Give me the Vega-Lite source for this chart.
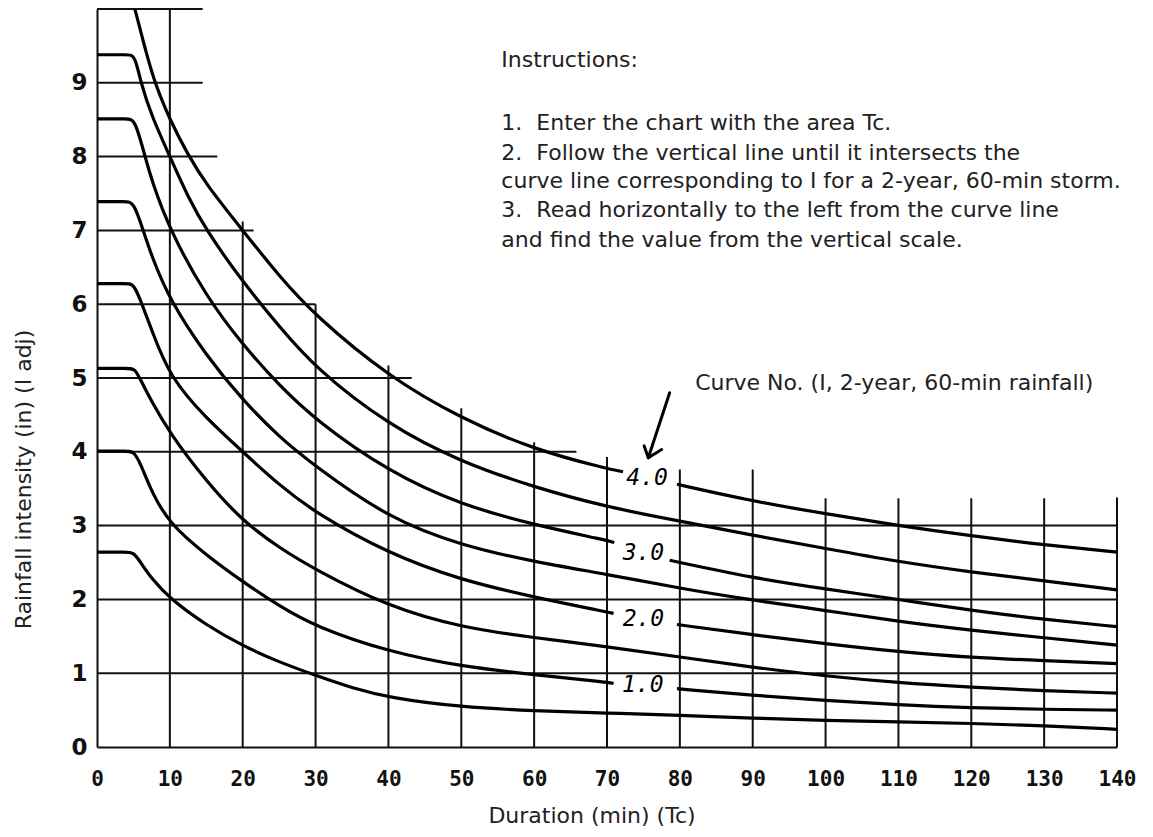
{
  "$schema": "https://vega.github.io/schema/vega-lite/v6.json",
  "width": 1020,
  "height": 738,
  "autosize": {"type": "none"},
  "padding": {"left": 97, "top": 9, "right": 36, "bottom": 90},
  "background": "white",
  "config": {"view": {"stroke": null}, "axis": {"grid": false}},
  "datasets": {
    "vgrid": [
      {"x": 10, "y": 0, "y2": 10},
      {"x": 20, "y": 0, "y2": 7.12},
      {"x": 30, "y": 0, "y2": 6.0},
      {"x": 40, "y": 0, "y2": 5.17},
      {"x": 50, "y": 0, "y2": 4.59},
      {"x": 60, "y": 0, "y2": 4.13},
      {"x": 70, "y": 0, "y2": 3.93},
      {"x": 80, "y": 0, "y2": 3.76},
      {"x": 90, "y": 0, "y2": 3.76},
      {"x": 100, "y": 0, "y2": 3.37},
      {"x": 110, "y": 0, "y2": 3.37},
      {"x": 120, "y": 0, "y2": 3.37},
      {"x": 130, "y": 0, "y2": 3.37},
      {"x": 140, "y": 0, "y2": 3.38}
    ],
    "hgrid": [
      {"y": 10, "x": 0, "x2": 14.5},
      {"y": 9, "x": 0, "x2": 14.5},
      {"y": 8, "x": 0, "x2": 16.5},
      {"y": 7, "x": 0, "x2": 21.5},
      {"y": 6, "x": 0, "x2": 30},
      {"y": 5, "x": 0, "x2": 43.2},
      {"y": 4, "x": 0, "x2": 65.8},
      {"y": 3, "x": 0, "x2": 140},
      {"y": 2, "x": 0, "x2": 140},
      {"y": 1, "x": 0, "x2": 140}
    ],
    "curves": [
      {"c": "A", "x": 0, "y": 2.64}, {"c": "A", "x": 4, "y": 2.64}, {"c": "A", "x": 5, "y": 2.64}, {"c": "A", "x": 6, "y": 2.5}, {"c": "A", "x": 7.5, "y": 2.28}, {"c": "A", "x": 10, "y": 2.01}, {"c": "A", "x": 15, "y": 1.65}, {"c": "A", "x": 20, "y": 1.37}, {"c": "A", "x": 25, "y": 1.15}, {"c": "A", "x": 30, "y": 0.97}, {"c": "A", "x": 35, "y": 0.8}, {"c": "A", "x": 40, "y": 0.67}, {"c": "A", "x": 50, "y": 0.54}, {"c": "A", "x": 60, "y": 0.49}, {"c": "A", "x": 70, "y": 0.46}, {"c": "A", "x": 80, "y": 0.43}, {"c": "A", "x": 90, "y": 0.39}, {"c": "A", "x": 100, "y": 0.36}, {"c": "A", "x": 110, "y": 0.34}, {"c": "A", "x": 120, "y": 0.32}, {"c": "A", "x": 130, "y": 0.29}, {"c": "A", "x": 140, "y": 0.24},
      {"c": "B1", "x": 0, "y": 4.01}, {"c": "B1", "x": 4, "y": 4.01}, {"c": "B1", "x": 5, "y": 4.01}, {"c": "B1", "x": 6, "y": 3.84}, {"c": "B1", "x": 7.5, "y": 3.45}, {"c": "B1", "x": 10, "y": 3.02}, {"c": "B1", "x": 15, "y": 2.6}, {"c": "B1", "x": 20, "y": 2.24}, {"c": "B1", "x": 25, "y": 1.91}, {"c": "B1", "x": 30, "y": 1.63}, {"c": "B1", "x": 40, "y": 1.29}, {"c": "B1", "x": 50, "y": 1.09}, {"c": "B1", "x": 60, "y": 0.98}, {"c": "B1", "x": 70, "y": 0.88}, {"c": "B1", "x": 70.9, "y": 0.86},
      {"c": "B2", "x": 79.6, "y": 0.79}, {"c": "B2", "x": 90, "y": 0.7}, {"c": "B2", "x": 100, "y": 0.63}, {"c": "B2", "x": 110, "y": 0.57}, {"c": "B2", "x": 120, "y": 0.53}, {"c": "B2", "x": 130, "y": 0.51}, {"c": "B2", "x": 140, "y": 0.5},
      {"c": "C", "x": 0, "y": 5.13}, {"c": "C", "x": 4.2, "y": 5.13}, {"c": "C", "x": 5.2, "y": 5.13}, {"c": "C", "x": 6, "y": 4.97}, {"c": "C", "x": 7.5, "y": 4.68}, {"c": "C", "x": 10, "y": 4.25}, {"c": "C", "x": 15, "y": 3.6}, {"c": "C", "x": 20, "y": 3.06}, {"c": "C", "x": 25, "y": 2.7}, {"c": "C", "x": 30, "y": 2.4}, {"c": "C", "x": 40, "y": 1.9}, {"c": "C", "x": 50, "y": 1.62}, {"c": "C", "x": 60, "y": 1.48}, {"c": "C", "x": 70, "y": 1.36}, {"c": "C", "x": 80, "y": 1.22}, {"c": "C", "x": 90, "y": 1.08}, {"c": "C", "x": 100, "y": 0.96}, {"c": "C", "x": 110, "y": 0.87}, {"c": "C", "x": 120, "y": 0.81}, {"c": "C", "x": 130, "y": 0.76}, {"c": "C", "x": 140, "y": 0.73},
      {"c": "D1", "x": 0, "y": 6.28}, {"c": "D1", "x": 4, "y": 6.28}, {"c": "D1", "x": 5, "y": 6.28}, {"c": "D1", "x": 6, "y": 6.05}, {"c": "D1", "x": 7.5, "y": 5.65}, {"c": "D1", "x": 10, "y": 5.01}, {"c": "D1", "x": 15, "y": 4.45}, {"c": "D1", "x": 20, "y": 4.0}, {"c": "D1", "x": 25, "y": 3.55}, {"c": "D1", "x": 30, "y": 3.17}, {"c": "D1", "x": 40, "y": 2.62}, {"c": "D1", "x": 50, "y": 2.26}, {"c": "D1", "x": 60, "y": 2.03}, {"c": "D1", "x": 70, "y": 1.83}, {"c": "D1", "x": 70.9, "y": 1.81},
      {"c": "D2", "x": 79.6, "y": 1.66}, {"c": "D2", "x": 90, "y": 1.52}, {"c": "D2", "x": 100, "y": 1.4}, {"c": "D2", "x": 110, "y": 1.29}, {"c": "D2", "x": 120, "y": 1.21}, {"c": "D2", "x": 130, "y": 1.17}, {"c": "D2", "x": 140, "y": 1.13},
      {"c": "E", "x": 0, "y": 7.39}, {"c": "E", "x": 4, "y": 7.39}, {"c": "E", "x": 5, "y": 7.39}, {"c": "E", "x": 6.35, "y": 7.0}, {"c": "E", "x": 7.5, "y": 6.65}, {"c": "E", "x": 10, "y": 6.05}, {"c": "E", "x": 15, "y": 5.3}, {"c": "E", "x": 20, "y": 4.7}, {"c": "E", "x": 25, "y": 4.2}, {"c": "E", "x": 30, "y": 3.8}, {"c": "E", "x": 40, "y": 3.1}, {"c": "E", "x": 50, "y": 2.73}, {"c": "E", "x": 60, "y": 2.51}, {"c": "E", "x": 70, "y": 2.34}, {"c": "E", "x": 80, "y": 2.15}, {"c": "E", "x": 90, "y": 1.99}, {"c": "E", "x": 100, "y": 1.85}, {"c": "E", "x": 110, "y": 1.7}, {"c": "E", "x": 120, "y": 1.58}, {"c": "E", "x": 130, "y": 1.48}, {"c": "E", "x": 140, "y": 1.38},
      {"c": "F1", "x": 0, "y": 8.51}, {"c": "F1", "x": 4.2, "y": 8.51}, {"c": "F1", "x": 5.2, "y": 8.51}, {"c": "F1", "x": 6.6, "y": 8.0}, {"c": "F1", "x": 7.5, "y": 7.68}, {"c": "F1", "x": 10, "y": 7.0}, {"c": "F1", "x": 15, "y": 6.1}, {"c": "F1", "x": 20, "y": 5.45}, {"c": "F1", "x": 25, "y": 4.9}, {"c": "F1", "x": 30, "y": 4.43}, {"c": "F1", "x": 40, "y": 3.73}, {"c": "F1", "x": 50, "y": 3.28}, {"c": "F1", "x": 60, "y": 3.01}, {"c": "F1", "x": 70, "y": 2.8}, {"c": "F1", "x": 71, "y": 2.77},
      {"c": "F2", "x": 78.6, "y": 2.53}, {"c": "F2", "x": 90, "y": 2.29}, {"c": "F2", "x": 100, "y": 2.14}, {"c": "F2", "x": 110, "y": 2.0}, {"c": "F2", "x": 120, "y": 1.85}, {"c": "F2", "x": 130, "y": 1.73}, {"c": "F2", "x": 140, "y": 1.63},
      {"c": "G", "x": 0, "y": 9.38}, {"c": "G", "x": 4.2, "y": 9.38}, {"c": "G", "x": 5.2, "y": 9.38}, {"c": "G", "x": 6, "y": 9.0}, {"c": "G", "x": 7.5, "y": 8.55}, {"c": "G", "x": 10, "y": 8.0}, {"c": "G", "x": 12.5, "y": 7.45}, {"c": "G", "x": 15, "y": 7.0}, {"c": "G", "x": 20, "y": 6.3}, {"c": "G", "x": 25, "y": 5.7}, {"c": "G", "x": 30, "y": 5.13}, {"c": "G", "x": 40, "y": 4.36}, {"c": "G", "x": 50, "y": 3.86}, {"c": "G", "x": 60, "y": 3.52}, {"c": "G", "x": 70, "y": 3.25}, {"c": "G", "x": 80, "y": 3.06}, {"c": "G", "x": 90, "y": 2.87}, {"c": "G", "x": 100, "y": 2.69}, {"c": "G", "x": 110, "y": 2.51}, {"c": "G", "x": 120, "y": 2.37}, {"c": "G", "x": 130, "y": 2.25}, {"c": "G", "x": 140, "y": 2.13},
      {"c": "H1", "x": 5.2, "y": 10.0}, {"c": "H1", "x": 6.5, "y": 9.5}, {"c": "H1", "x": 7.9, "y": 9.0}, {"c": "H1", "x": 10, "y": 8.5}, {"c": "H1", "x": 12.5, "y": 8.02}, {"c": "H1", "x": 15, "y": 7.62}, {"c": "H1", "x": 20, "y": 7.0}, {"c": "H1", "x": 25, "y": 6.38}, {"c": "H1", "x": 30, "y": 5.84}, {"c": "H1", "x": 40, "y": 5.02}, {"c": "H1", "x": 50, "y": 4.45}, {"c": "H1", "x": 60, "y": 4.03}, {"c": "H1", "x": 70, "y": 3.77}, {"c": "H1", "x": 72.2, "y": 3.73},
      {"c": "H2", "x": 79.6, "y": 3.56}, {"c": "H2", "x": 90, "y": 3.33}, {"c": "H2", "x": 100, "y": 3.16}, {"c": "H2", "x": 110, "y": 3.0}, {"c": "H2", "x": 120, "y": 2.86}, {"c": "H2", "x": 130, "y": 2.74}, {"c": "H2", "x": 140, "y": 2.64}
    ],
    "curveLabels": [
      {"lab": "4.0", "x": 75.5, "y": 3.64},
      {"lab": "3.0", "x": 75.0, "y": 2.63},
      {"lab": "2.0", "x": 75.0, "y": 1.73},
      {"lab": "1.0", "x": 74.9, "y": 0.84}
    ],
    "notes": [
      {"txt": "Instructions:", "x": 55.5, "y": 9.218},
      {"txt": "1.\u00a0 Enter the chart with the area Tc.", "x": 55.5, "y": 8.36},
      {"txt": "2.\u00a0 Follow the vertical line until it intersects the", "x": 55.5, "y": 7.953},
      {"txt": "curve line corresponding to I for a 2-year, 60-min storm.", "x": 55.5, "y": 7.573},
      {"txt": "3.\u00a0 Read horizontally to the left from the curve line", "x": 55.5, "y": 7.185},
      {"txt": "and find the value from the vertical scale.", "x": 55.5, "y": 6.778},
      {"txt": "Curve No. (I, 2-year, 60-min rainfall)", "x": 82.1, "y": 4.84}
    ],
    "arrow": [
      {"x": 78.6, "y": 4.80, "x2": 75.67, "y2": 3.92},
      {"x": 75.1, "y": 4.08, "x2": 75.67, "y2": 3.92},
      {"x": 77.5, "y": 4.03, "x2": 75.67, "y2": 3.92}
    ]
  },
  "encoding": {
    "x": {
      "field": "x", "type": "quantitative",
      "scale": {"domain": [0, 140], "nice": false, "zero": false},
      "axis": {
        "values": [0, 10, 20, 30, 40, 50, 60, 70, 80, 90, 100, 110, 120, 130, 140],
        "title": "Duration (min) (Tc)",
        "domain": true, "domainColor": "#111", "domainWidth": 2,
        "ticks": false, "tickSize": 0,
        "labelFont": "DejaVu Sans Mono", "labelFontWeight": "bold", "labelFontSize": 21, "labelColor": "#111",
        "labelBaseline": "alphabetic", "labelPadding": 38, "labelFlush": false, "labelOverlap": false,
        "titleFont": "DejaVu Sans", "titleFontSize": 22, "titleFontWeight": "normal", "titleColor": "#222",
        "titleX": 494.5, "titleY": 75, "titleBaseline": "alphabetic", "titleAlign": "center"
      }
    },
    "y": {
      "field": "y", "type": "quantitative",
      "scale": {"domain": [0, 10], "nice": false, "zero": false},
      "axis": {
        "values": [0, 1, 2, 3, 4, 5, 6, 7, 8, 9],
        "title": "Rainfall intensity (in) (I adj)",
        "domain": true, "domainColor": "#111", "domainWidth": 2,
        "ticks": false, "tickSize": 0,
        "labelFont": "DejaVu Sans", "labelFontWeight": "bold", "labelFontSize": 23, "labelColor": "#111",
        "labelPadding": 10, "labelBaseline": "middle", "labelFlush": false, "labelOverlap": false,
        "titleFont": "DejaVu Sans", "titleFontSize": 22, "titleFontWeight": "normal", "titleColor": "#222",
        "titleX": -67, "titleY": 470, "titleAngle": -90, "titleAlign": "center", "titleBaseline": "alphabetic"
      }
    }
  },
  "layer": [
    {
      "data": {"name": "vgrid"},
      "mark": {"type": "rule", "stroke": "#111", "strokeWidth": 2},
      "encoding": {"y2": {"field": "y2"}}
    },
    {
      "data": {"name": "hgrid"},
      "mark": {"type": "rule", "stroke": "#111", "strokeWidth": 2},
      "encoding": {"x2": {"field": "x2"}}
    },
    {
      "data": {"name": "curves"},
      "mark": {"type": "line", "stroke": "#000", "strokeWidth": 3.2, "interpolate": "basis"},
      "encoding": {
        "detail": {"field": "c", "type": "nominal"},
        "order": {"field": "x", "type": "quantitative"}
      }
    },
    {
      "data": {"name": "curveLabels"},
      "mark": {"type": "text", "font": "DejaVu Sans Mono", "fontStyle": "italic", "fontSize": 23, "fill": "#000", "align": "center", "baseline": "middle"},
      "encoding": {"text": {"field": "lab", "type": "nominal"}}
    },
    {
      "data": {"name": "notes"},
      "mark": {"type": "text", "font": "DejaVu Sans", "fontSize": 22, "fill": "#222", "align": "left", "baseline": "alphabetic"},
      "encoding": {"text": {"field": "txt", "type": "nominal"}}
    },
    {
      "data": {"name": "arrow"},
      "mark": {"type": "rule", "stroke": "#000", "strokeWidth": 3, "strokeCap": "round"},
      "encoding": {"x2": {"field": "x2"}, "y2": {"field": "y2"}}
    }
  ]
}
